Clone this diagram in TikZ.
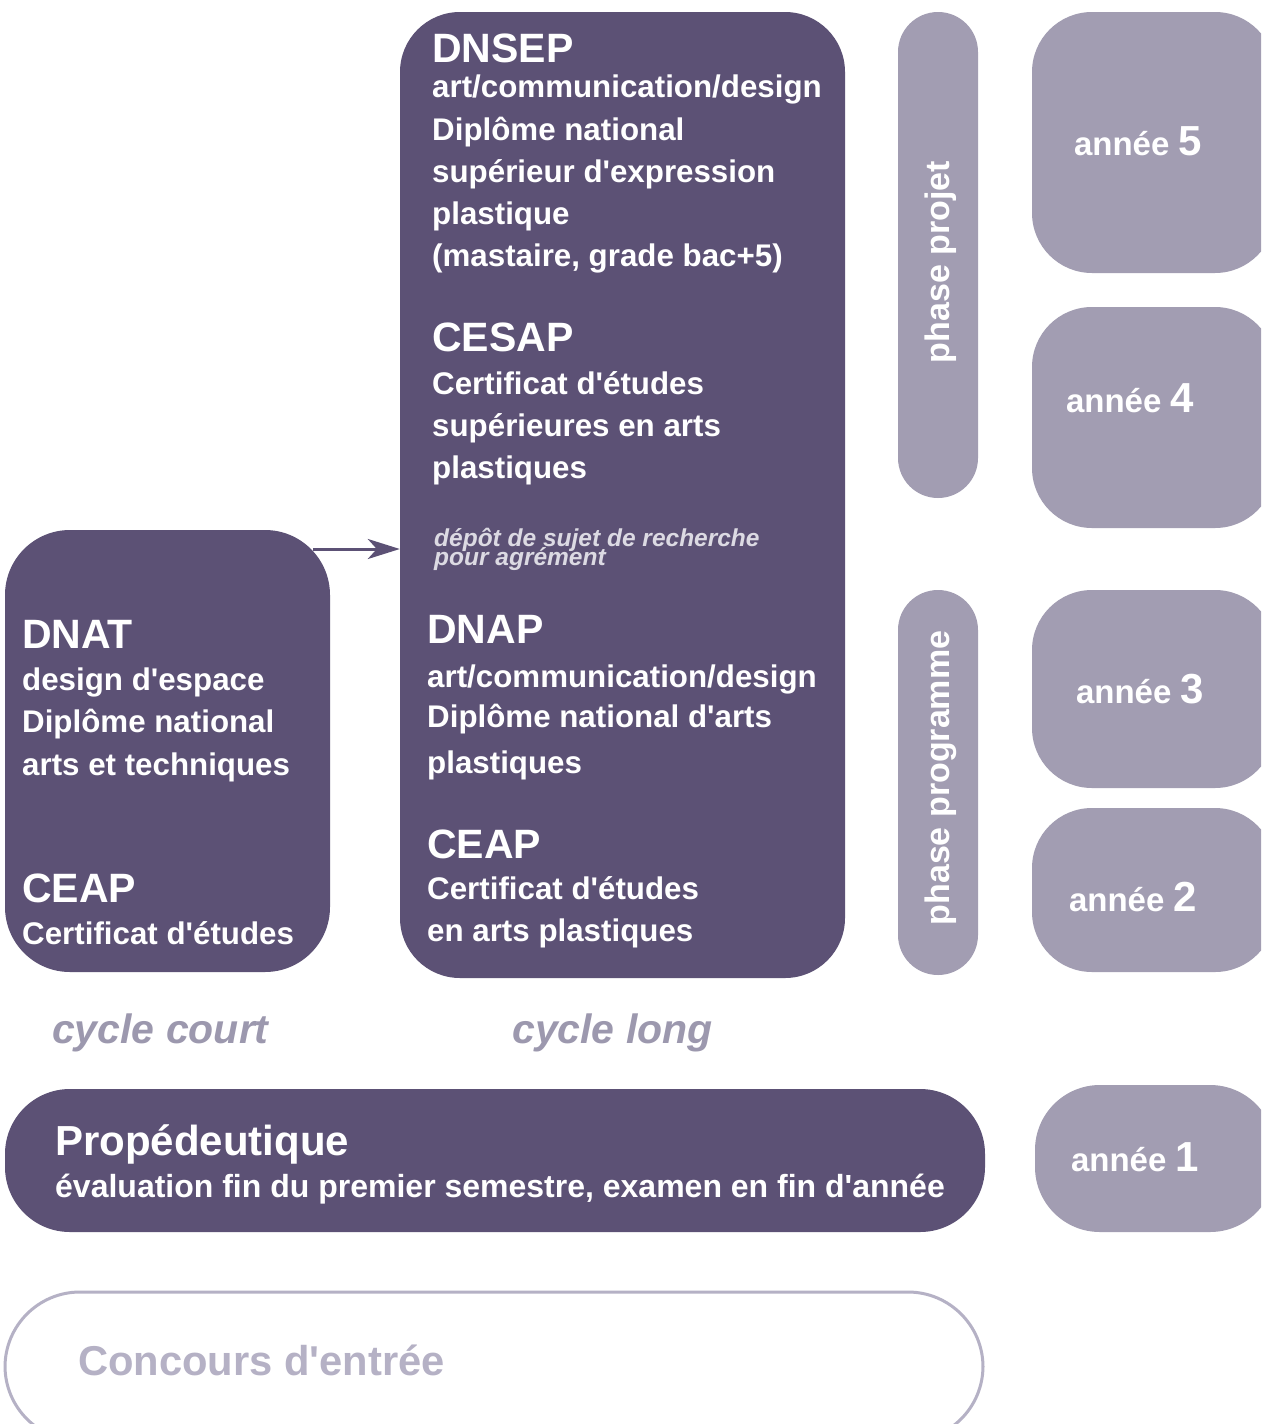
\documentclass[tikz,border=0pt]{standalone}
\usepackage{fontspec}
\setmainfont{Liberation Sans}[Ligatures=TeXOff]
\usetikzlibrary{arrows.meta}
\definecolor{dark}{HTML}{5C5175}
\definecolor{light}{HTML}{A29DB2}
\definecolor{pale}{HTML}{DCDAE3}
\definecolor{cyc}{HTML}{9C98AE}
\definecolor{conc}{HTML}{B5B1C5}
\newcommand\myfs[1]{\fontsize{#1}{#1}\selectfont}
\tikzset{
  darkbox/.style={rectangle, fill=dark, draw=none, rounded corners=#1, inner sep=0pt},
  darkbox/.default=60pt,
  lightbox/.style={rectangle, fill=light, draw=none, rounded corners=#1, inner sep=0pt},
  lightbox/.default=60pt,
  ln/.style={anchor=base west, inner sep=0pt, text=white, font=\bfseries\myfs{31.3}},
  big/.style={font=\bfseries\myfs{41}},
  small/.style={text=pale, font=\bfseries\itshape\myfs{24.5}},
  cyclab/.style={anchor=base west, inner sep=0pt, text=cyc, font=\bfseries\itshape\myfs{41}},
  yearlab/.style={anchor=base, inner sep=0pt, text=white, font=\bfseries\myfs{33}},
  phaselab/.style={anchor=base, inner sep=0pt, text=white, rotate=90, font=\bfseries\myfs{34}},
  link/.style={draw=dark, line width=3pt, -{Stealth[length=32pt, width=20pt, inset=9pt]}}
}
\newcommand\yr[1]{ann\'ee {\myfs{42}#1}}
\begin{document}
\begin{tikzpicture}[x=1pt,y=-1pt]
\useasboundingbox (0,0) rectangle (1261,1424);
\clip (0,0) rectangle (1261,1424);
\fill[white] (0,0) rectangle (1261,1424);

% boxes
\node[darkbox, minimum width=445pt, minimum height=966pt] (long) at (622.5,495) {};
\node[darkbox=65pt, minimum width=325pt, minimum height=442pt] (court) at (167.5,751) {};
\node[lightbox=40pt, minimum width=80pt, minimum height=486pt] (projet) at (938,255) {};
\node[lightbox=40pt, minimum width=80pt, minimum height=385pt] (programme) at (938,782.5) {};
\node[lightbox, minimum width=243pt, minimum height=261pt] (an5) at (1153.5,142.5) {};
\node[lightbox, minimum width=243pt, minimum height=221pt] (an4) at (1153.5,417.5) {};
\node[lightbox, minimum width=243pt, minimum height=198pt] (an3) at (1153.5,689) {};
\node[lightbox, minimum width=243pt, minimum height=164pt] (an2) at (1153.5,890) {};
\node[lightbox=65pt, minimum width=240pt, minimum height=147pt] (an1) at (1155,1158.5) {};
\node[darkbox=65pt, minimum width=980pt, minimum height=143pt] (prop) at (495,1160.5) {};
\node[rectangle, draw=conc, line width=3pt, fill=white, rounded corners=75pt, minimum width=978pt, minimum height=149pt] (concbox) at (494,1366.5) {};

% arrow
\coordinate (arrS) at (313,549);
\draw[link] (arrS) -- (long.west |- arrS);

% cycle long texts
\node[ln, big] (dnsep) at (432,62) {DNSEP};
\node[ln] (dnsep1) at (432,97) {art/communication/design};
\node[ln] (dnsep2) at (432,140) {Diplôme national};
\node[ln] (dnsep3) at (432,182) {supérieur d'expression};
\node[ln] (dnsep4) at (432,224) {plastique};
\node[ln] (dnsep5) at (432,266) {(mastaire, grade bac+5)};

\node[ln, big] (cesap) at (432,351) {CESAP};
\node[ln] (cesap1) at (432,394) {Certificat d'études};
\node[ln] (cesap2) at (432,436) {supérieures en arts};
\node[ln] (cesap3) at (432,478) {plastiques};

\node[ln, small] (depot1) at (434,546) {dépôt de sujet de recherche};
\node[ln, small] (depot2) at (434,565) {pour agrément};

\node[ln, big] (dnap) at (427,643) {DNAP};
\node[ln] (dnap1) at (427,687) {art/communication/design};
\node[ln] (dnap2) at (427,727) {Diplôme national d'arts};
\node[ln] (dnap3) at (427,773) {plastiques};

\node[ln, big] (ceapl) at (427,858) {CEAP};
\node[ln] (ceapl1) at (427,899) {Certificat d'études};
\node[ln] (ceapl2) at (427,941) {en arts plastiques};

% cycle court texts
\node[ln, big] (dnat) at (22,648) {DNAT};
\node[ln] (dnat1) at (22,690) {design d'espace};
\node[ln] (dnat2) at (22,732) {Diplôme national};
\node[ln] (dnat3) at (22,775) {arts et techniques};

\node[ln, big] (ceapc) at (22,902) {CEAP};
\node[ln] (ceapc1) at (22,944) {Certificat d'études};

% cycle labels
\node[cyclab] (lcourt) at (52,1043) {cycle court};
\node[cyclab] (llong) at (512,1043) {cycle long};

% propedeutique
\node[ln, font=\bfseries\myfs{42}] (propt) at (55,1155) {Propédeutique};
\node[ln, font=\bfseries\myfs{32}] (propt1) at (55,1197) {évaluation fin du premier semestre, examen en fin d'année};

% concours
\node[ln, text=conc, font=\bfseries\myfs{41.7}] (conct) at (78,1375) {Concours d'entrée};

% phases
\node[phaselab] (projett) at (949,262) {phase projet};
\node[phaselab] (programmet) at (949,778) {phase programme};

% years
\node[yearlab] (y5) at (1138,155) {\yr{5}};
\node[yearlab] (y4) at (1130,412) {\yr{4}};
\node[yearlab] (y3) at (1140,703) {\yr{3}};
\node[yearlab] (y2) at (1133,911) {\yr{2}};
\node[yearlab] (y1) at (1135,1171) {\yr{1}};
\end{tikzpicture}
\end{document}
